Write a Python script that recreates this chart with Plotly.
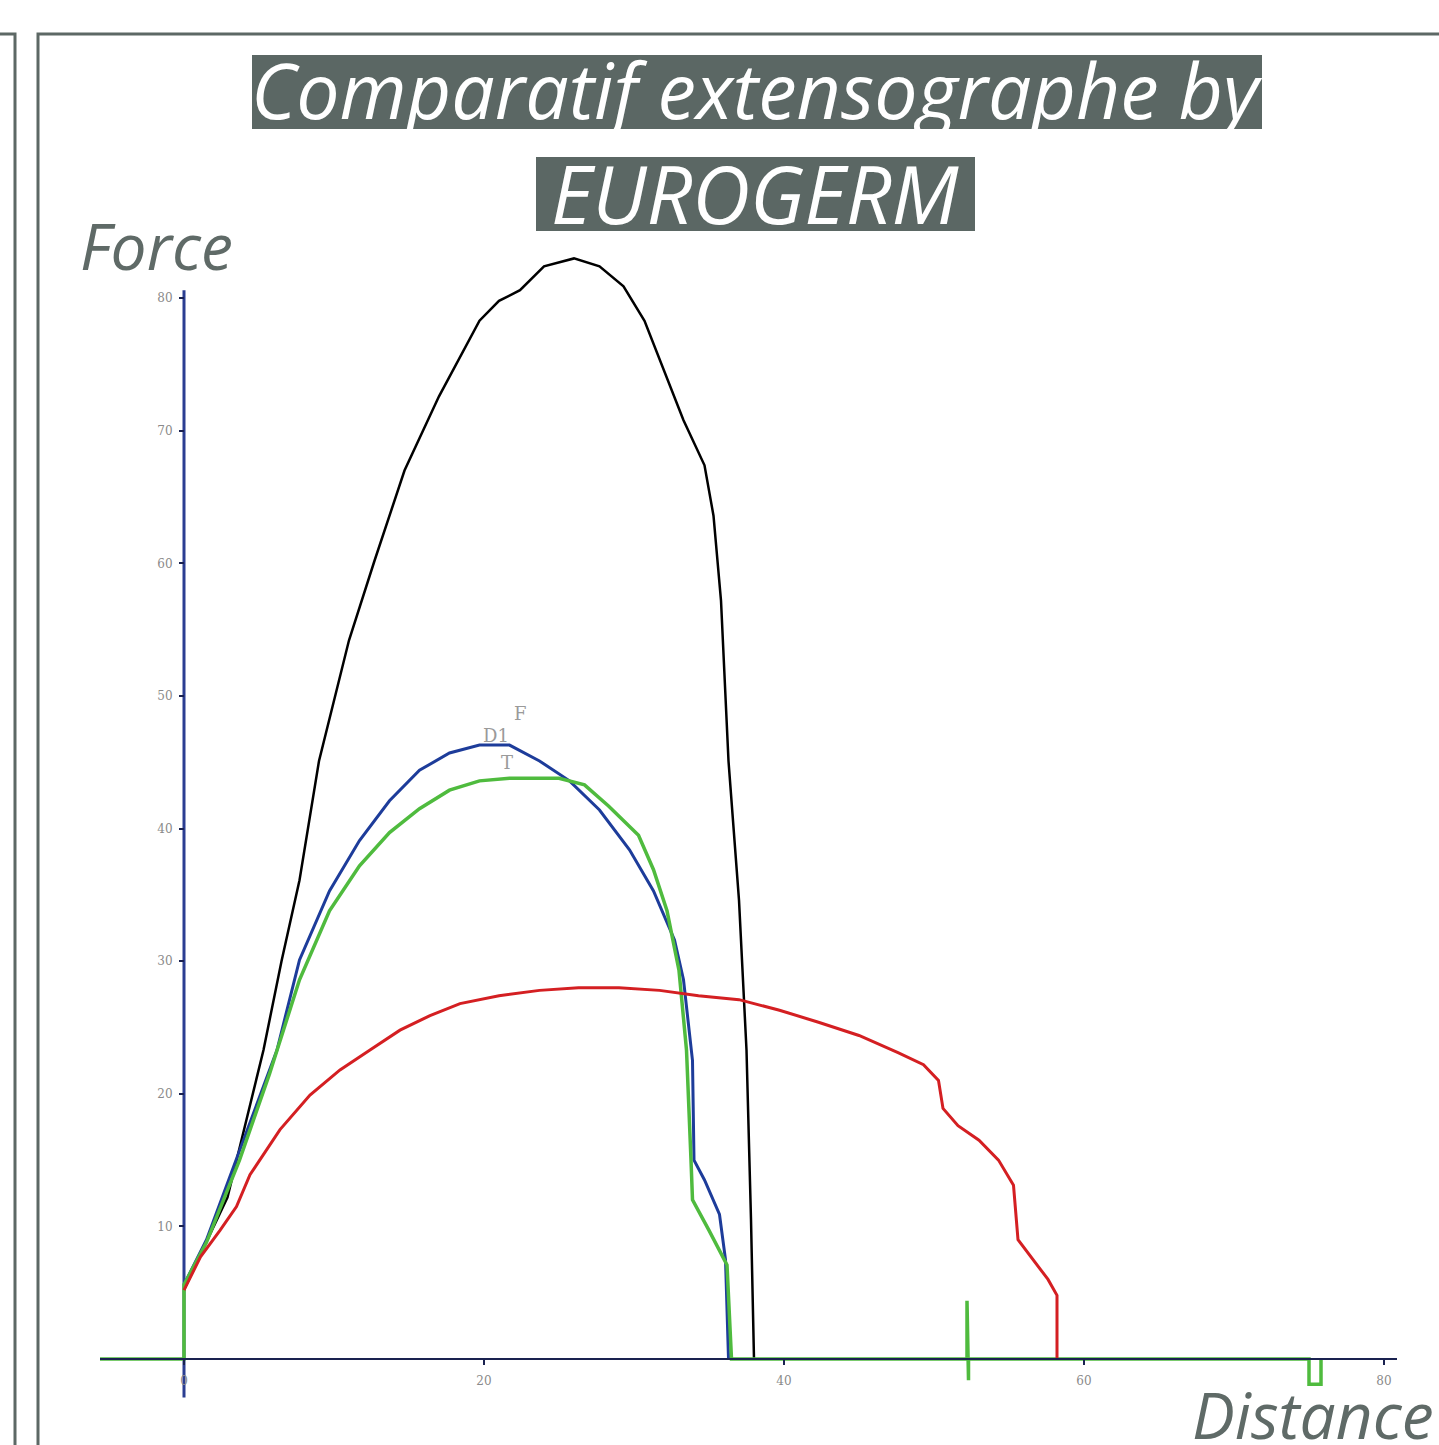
import plotly.graph_objects as go

W, H = 1439, 1445

# ---- data ----
x_black = [0, 0.6, 2.9, 4.4, 5.3, 6.5, 7.7, 9.0, 10.2, 11.0, 12.7, 14.7, 17.0, 19.7, 21.0, 22.4, 24.0,
           26.0, 27.7, 29.3, 30.7, 32.0, 33.3, 34.7, 35.3, 35.8, 36.3, 37.0, 37.5, 37.8, 38.0]
y_black = [5.2, 6.7, 12.2, 19.0, 23.3, 30.0, 36.1, 45.1, 50.5, 54.2, 60.2, 67.0, 72.6, 78.3, 79.8, 80.6, 82.4,
           83.0, 82.4, 80.9, 78.3, 74.5, 70.8, 67.4, 63.6, 57.2, 45.1, 34.6, 23.3, 10.5, 0]

x_blue = [0, 1.5, 3.7, 6.2, 7.7, 9.7, 11.7, 13.7, 15.7, 17.7, 19.7, 21.7, 23.7, 25.7, 27.7, 29.7, 31.3,
          32.7, 33.3, 33.9, 34.0, 34.7, 35.7, 36.1, 36.3]
y_blue = [5.6, 9.0, 15.7, 23.3, 30.1, 35.3, 39.1, 42.1, 44.4, 45.7, 46.3, 46.3, 45.1, 43.6, 41.4, 38.4, 35.3,
          31.6, 28.6, 22.5, 15.0, 13.5, 10.9, 7.5, 0]

x_green = [-5.6, 0, 0, 1.5, 3.7, 5.7, 7.7, 9.7, 11.7, 13.7, 15.7, 17.7, 19.7, 21.7, 25.0, 26.7, 28.3, 30.3,
           31.3, 32.2, 33.0, 33.5, 33.8, 33.9, 35.0, 36.2, 36.5, 52.2, 52.2, 52.3, 52.3, 75.0, 75.0, 75.8, 75.8]
y_green = [0, 0, 5.6, 8.8, 15.0, 21.5, 28.6, 33.8, 37.2, 39.7, 41.5, 42.9, 43.6, 43.8, 43.8, 43.3, 41.7, 39.5,
           36.9, 33.8, 29.3, 23.3, 15.0, 12.0, 9.7, 7.1, 0, 0, 4.4, -1.6, 0, 0, -1.9, -1.9, 0]

x_red = [0, 1.1, 2.4, 3.5, 4.4, 6.4, 8.4, 10.4, 12.4, 14.4, 16.4, 18.4, 21.0, 23.7, 26.3, 29.0, 31.7, 34.3,
         37.0, 39.7, 42.3, 45.0, 47.6, 49.3, 50.3, 50.6, 51.6, 53.0, 54.3, 55.3, 55.6, 56.6, 57.6, 58.2, 58.2]
y_red = [5.2, 7.7, 9.7, 11.5, 13.9, 17.3, 19.9, 21.8, 23.3, 24.8, 25.9, 26.8, 27.4, 27.8, 28.0, 28.0, 27.8, 27.4,
         27.1, 26.3, 25.4, 24.4, 23.1, 22.2, 21.0, 18.9, 17.6, 16.5, 15.0, 13.1, 9.0, 7.5, 6.0, 4.8, 0]

x_ticks = [0, 20, 40, 60, 80]
y_ticks = [10, 20, 30, 40, 50, 60, 70, 80]

title_line1 = "Comparatif extensographe by"
title_line2 = "EUROGERM"
y_label = "Force"
x_label = "Distance"
peak_labels = ["F", "D1", "T"]
peak_x = [22.4, 20.8, 21.5]
peak_y = [48.7, 47.0, 45.0]

# ---- layout helpers (pixel -> paper) ----
def px(x):
    return x / W

def py(y):
    return 1 - y / H

X0, XS = 184, 15.0    # pixel of x=0, pixels per unit
Y0, YS = 1359, 13.26  # pixel of y=0, pixels per unit
plot_left, plot_right = 100, 1397
plot_top, plot_bottom = 240, 1445
x_range = [(plot_left - X0) / XS, (plot_right - X0) / XS]
y_range = [(Y0 - plot_bottom) / YS, (Y0 - plot_top) / YS]

frame_col = "#5d6865"
text_col = "#5f6a67"

fig = go.Figure()
fig.add_trace(go.Scatter(x=x_black, y=y_black, mode="lines", line=dict(color="#000000", width=2.5),
                         name="black", hoverinfo="skip"))
fig.add_trace(go.Scatter(x=x_blue, y=y_blue, mode="lines", line=dict(color="#1d3c9a", width=3),
                         name="blue", hoverinfo="skip"))
fig.add_trace(go.Scatter(x=x_green, y=y_green, mode="lines", line=dict(color="#4fbb3e", width=3.5),
                         name="green", hoverinfo="skip"))
fig.add_trace(go.Scatter(x=x_red, y=y_red, mode="lines", line=dict(color="#d41f22", width=3),
                         name="red", hoverinfo="skip"))

shapes = [
    # y axis line
    dict(type="line", xref="x", yref="y", x0=0, x1=0, y0=-2.9, y1=80.6,
         line=dict(color="#2b3e92", width=3), layer="below"),
    # outer frame (main panel)
    dict(type="path", xref="paper", yref="paper",
         path=f"M {px(38)} {py(1450)} L {px(38)} {py(34)} L {px(1445)} {py(34)}",
         line=dict(color=frame_col, width=3)),
    # left panel edge
    dict(type="path", xref="paper", yref="paper",
         path=f"M {px(-5)} {py(34)} L {px(15)} {py(34)} L {px(15)} {py(1450)}",
         line=dict(color=frame_col, width=3)),
    # title boxes
    dict(type="rect", xref="paper", yref="paper", x0=px(252), x1=px(1262), y0=py(129), y1=py(55),
         fillcolor="#5b6764", line=dict(width=0), layer="below"),
    dict(type="rect", xref="paper", yref="paper", x0=px(536), x1=px(975), y0=py(231), y1=py(157),
         fillcolor="#5b6764", line=dict(width=0), layer="below"),
]

annotations = [
    dict(text=title_line1, xref="paper", yref="paper", x=px(757), y=py(90), xanchor="center", yanchor="middle",
         showarrow=False, font=dict(family="Open Sans", size=77, color="white", style="italic")),
    dict(text=title_line2, xref="paper", yref="paper", x=px(755), y=py(192), xanchor="center", yanchor="middle",
         showarrow=False, font=dict(family="Open Sans", size=80, color="white", style="italic")),
    dict(text=y_label, xref="paper", yref="paper", x=px(78), y=py(246), xanchor="left", yanchor="middle",
         showarrow=False, font=dict(family="Open Sans", size=64, color=text_col, style="italic")),
    dict(text=x_label, xref="paper", yref="paper", x=px(1190), y=py(1414), xanchor="left", yanchor="middle",
         showarrow=False, font=dict(family="Open Sans", size=64, color=text_col, style="italic")),
]
for t, xx, yy in zip(peak_labels, peak_x, peak_y):
    annotations.append(dict(text=t, x=xx, y=yy, xref="x", yref="y", showarrow=False,
                            font=dict(family="DejaVu Serif", size=18, color="#9a9a9a")))

fig.update_layout(
    width=W, height=H,
    margin=dict(l=0, r=0, t=0, b=0),
    paper_bgcolor="white", plot_bgcolor="white",
    showlegend=False,
    shapes=shapes,
    annotations=annotations,
    xaxis=dict(domain=[px(plot_left), px(plot_right)], range=x_range, anchor="free", position=py(Y0),
               showline=True, linecolor="#1a2250", linewidth=2,
               tickmode="array", tickvals=x_ticks, ticktext=[str(v) for v in x_ticks],
               ticks="outside", ticklen=5, tickwidth=2, tickcolor="#1a2250",
               ticklabelstandoff=6,
               tickfont=dict(family="DejaVu Serif", size=12, color="#8a8a8a"),
               showgrid=False, zeroline=False),
    yaxis=dict(domain=[0, py(plot_top)], range=y_range, anchor="free", position=px(X0),
               showline=False,
               tickmode="array", tickvals=y_ticks, ticktext=[str(v) for v in y_ticks],
               ticks="outside", ticklen=5, tickwidth=2, tickcolor="#1a2250",
               ticklabelstandoff=4,
               tickfont=dict(family="DejaVu Serif", size=12, color="#8a8a8a"),
               showgrid=False, zeroline=False),
)

fig.write_html("out.html")
